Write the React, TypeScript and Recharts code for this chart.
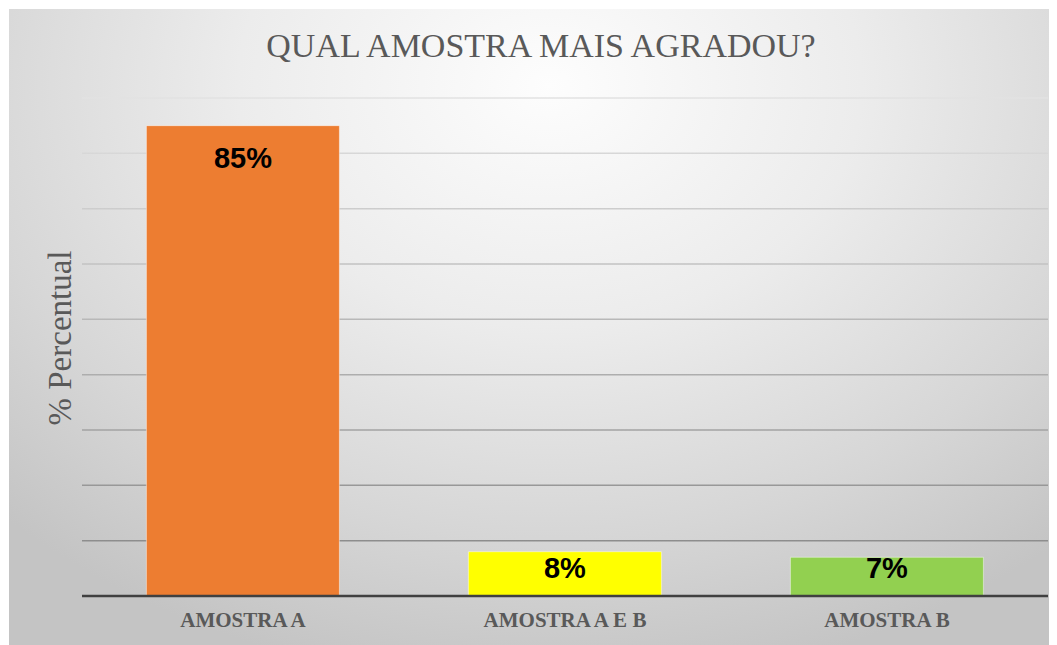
import { BarChart, Bar, XAxis, YAxis, CartesianGrid, Cell, LabelList } from "recharts";

const categories = ["AMOSTRA A", "AMOSTRA A E B", "AMOSTRA B"];
const percentages = [85, 8, 7];
const barColors = ["#ED7D31", "#FFFF00", "#92D050"];
const yTicks = [0, 10, 20, 30, 40, 50, 60, 70, 80, 90];

const data = categories.map((name, i) => ({ name, value: percentages[i] }));

const SERIF = "'Liberation Serif', 'DejaVu Serif', serif";

// Excel-style "inside end" label: sits near the top, but is kept above the bottom on short bars
function BarValueLabel(props: any) {
  const { x, y, width, height, value } = props;
  const baseline = Math.min(y + 42, y + height - 18);
  return (
    <text
      x={x + width / 2}
      y={baseline}
      textAnchor="middle"
      fontFamily="'Liberation Sans', Arial, sans-serif"
      fontWeight="bold"
      fontSize={29}
      fill="#000000"
    >
      {`${value}%`}
    </text>
  );
}

export default function App() {
  return (
    <div
      style={{
        position: "absolute",
        left: 9,
        top: 9,
        width: 1040,
        height: 636,
        background:
          "radial-gradient(ellipse 75% 95% at 52% 12%, #fdfdfd 0%, #ececec 40%, #d6d6d6 75%, #c4c4c4 100%)",
      }}
    >
      <BarChart
        width={1040}
        height={636}
        data={data}
        margin={{ top: 89, right: 1, left: 73, bottom: 0 }}
        barCategoryGap="20%"
      >
        <CartesianGrid vertical={false} stroke="url(#gridFade)" strokeWidth={1.5} />
        <YAxis hide domain={[0, 90]} ticks={yTicks} />
        <XAxis
          dataKey="name"
          height={49}
          axisLine={{ stroke: "#404040", strokeWidth: 2.5 }}
          tickLine={false}
          tick={{ fontFamily: SERIF, fontSize: 21, fontWeight: "bold", fill: "#595959" }}
          tickMargin={10}
        />
        <Bar dataKey="value" isAnimationActive={false} stroke="rgba(255,255,255,0.45)" strokeWidth={1}>
          {data.map((d, i) => (
            <Cell key={d.name} fill={barColors[i]} />
          ))}
          <LabelList dataKey="value" content={BarValueLabel} />
        </Bar>
      </BarChart>
      <svg
        width={1040}
        height={636}
        style={{ position: "absolute", left: 0, top: 0, pointerEvents: "none" }}
      >
        <defs>
          <linearGradient id="gridFade" gradientUnits="userSpaceOnUse" x1="0" y1="89" x2="0" y2="540">
            <stop offset="0%" stopColor="#e2e2e2" />
            <stop offset="100%" stopColor="#8c8c8c" />
          </linearGradient>
        </defs>
        <text x={532} y={48} textAnchor="middle" fontFamily={SERIF} fontSize={34} fill="#595959">
          QUAL AMOSTRA MAIS AGRADOU?
        </text>
        <text
          x={51}
          y={329}
          textAnchor="middle"
          dominantBaseline="central"
          transform="rotate(-90 51 329)"
          fontFamily={SERIF}
          fontSize={33}
          fill="#595959"
        >
          % Percentual
        </text>
      </svg>
    </div>
  );
}
